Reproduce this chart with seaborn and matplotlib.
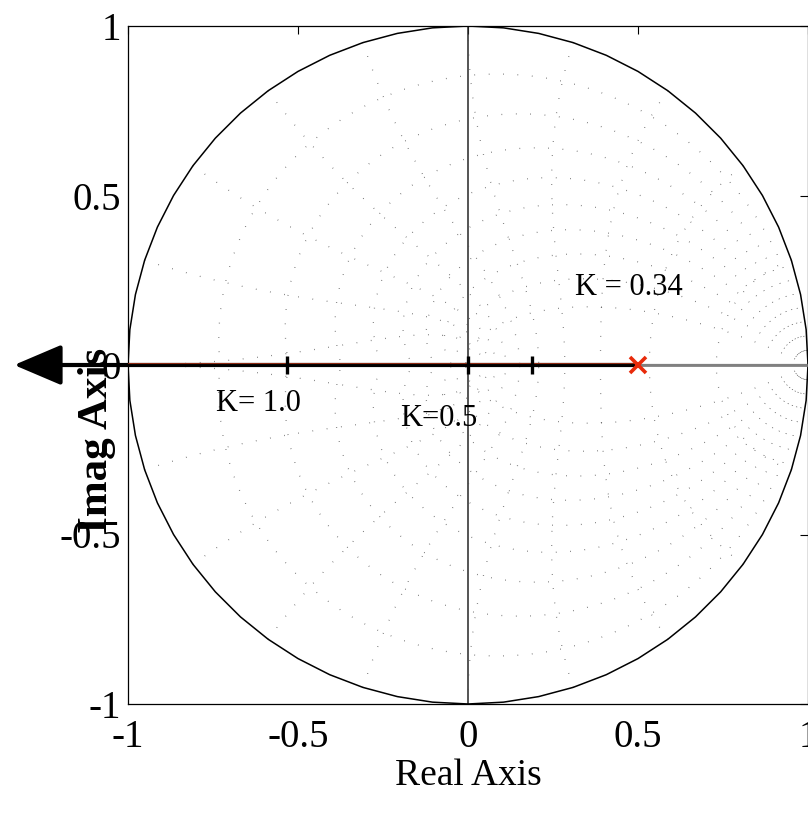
import numpy as np
import matplotlib
matplotlib.use("Agg")
import matplotlib.pyplot as plt
import matplotlib.transforms as mtransforms
import seaborn as sns

# ---- data ----
pole_real = [0.5]
pole_imag = [0.0]
locus_real = [0.5, -1.335]          # root locus branch (pole -> left, arrow tip)
locus_imag = [0.0, 0.0]
right_branch_real = [0.5, 1.0]
right_branch_imag = [0.0, 0.0]
k_marks_real = [-0.532, 0.0, 0.188]
k_marks_imag = [0.0, 0.0, 0.0]
k_labels = ["K= 1.0", "K=0.5", "K = 0.34"]
k_label_x = [-0.741, -0.20, 0.315]
k_label_y = [-0.135, -0.179, 0.206]
zeta_vals = [0.1, 0.2, 0.3, 0.4, 0.5, 0.6, 0.7, 0.8, 0.9]
wn_vals = [0.1, 0.2, 0.3, 0.4, 0.5, 0.6, 0.7, 0.8, 0.9, 1.0]   # multiples of pi
ticks = [-1, -0.5, 0, 0.5, 1]
tick_labels = ["-1", "-0.5", "0", "0.5", "1"]

sns.set_theme(style="white")
plt.rcParams["font.family"] = ["Liberation Serif", "DejaVu Serif"]
plt.rcParams["text.color"] = "black"
plt.rcParams["axes.labelcolor"] = "black"

fig = plt.figure(figsize=(8.08, 8.17), dpi=100)
ax = fig.add_axes([128 / 808, 1 - 704 / 817, 680 / 808, 678 / 817])

# z-plane grid (dotted)
grid_kw = dict(color="0.3", lw=0.9, dashes=(0.5, 11.0), sort=False, estimator=None,
               legend=False, ax=ax)
for z in zeta_vals:
    wmax = np.pi / np.sqrt(1 - z ** 2)
    w = np.linspace(0, wmax, 200)
    s = w * (-z + 1j * np.sqrt(1 - z ** 2))
    zz = np.exp(s)
    sns.lineplot(x=zz.real, y=zz.imag, **grid_kw)
    sns.lineplot(x=zz.real, y=-zz.imag, **grid_kw)
for wn in wn_vals:
    phi = np.linspace(np.pi / 2, np.pi, 120)
    zz = np.exp(wn * np.pi * np.exp(1j * phi))
    sns.lineplot(x=zz.real, y=zz.imag, **grid_kw)
    sns.lineplot(x=zz.real, y=-zz.imag, **grid_kw)

# unit circle (polygonal)
th = np.linspace(0, 2 * np.pi, 61)
sns.lineplot(x=np.cos(th), y=np.sin(th), sort=False, estimator=None, color="black",
             lw=1.1, ax=ax)

# axes lines
ax.axvline(0, color="0.15", lw=1.1, zorder=1)
ax.axhline(0, color="0.5", lw=1.6, zorder=1)
sns.lineplot(x=right_branch_real, y=right_branch_imag, color="0.5", lw=2.0,
             sort=False, estimator=None, ax=ax)

# root locus with arrow
ax.annotate("", xy=(locus_real[1], locus_imag[1]), xytext=(locus_real[0], locus_imag[0]),
            arrowprops=dict(arrowstyle="-|>,head_length=1.48,head_width=0.63",
                            mutation_scale=20, lw=3.0, color="black",
                            shrinkA=0, shrinkB=0),
            annotation_clip=False, zorder=5)
off = mtransforms.offset_copy(ax.transData, fig=fig, x=0, y=1.6, units="dots")
ax.plot([locus_real[0], -1.0], [locus_imag[0], 0.0], color="#8c2a12", lw=0.8,
        transform=off, zorder=6)

# K marks
sns.scatterplot(x=k_marks_real, y=k_marks_imag, marker="|", s=150, linewidth=2.4,
                color="black", ax=ax, zorder=7)
# pole
ax.plot(pole_real, pole_imag, marker="x", ls="none", ms=11, mew=2.6, color="#e82a0a",
        zorder=8)

for t, x, y in zip(k_labels, k_label_x, k_label_y):
    ax.text(x, y, t, fontsize=22, ha="left", va="baseline", color="black", zorder=9)

ax.set_xlim(-1, 1)
ax.set_ylim(-1, 1)
ax.set_xticks(ticks)
ax.set_xticklabels(tick_labels)
ax.set_yticks(ticks)
ax.set_yticklabels(tick_labels)
ax.tick_params(direction="in", length=6, width=0.8, top=True, right=True,
               labelsize=28, colors="black")
ax.tick_params(axis="x", pad=11)
ax.tick_params(axis="y", pad=5)
for sp in ax.spines.values():
    sp.set_color("black")
    sp.set_linewidth(0.9)

ax.set_xlabel("Real Axis", fontsize=27, color="black")
ax.xaxis.set_label_coords(0.5, -0.12)
ax.xaxis.label.set_va("baseline")
ax.set_ylabel("Imag Axis", fontsize=31, fontweight="bold", color="black")
ax.yaxis.set_label_coords(-0.0456, 0.389)
ax.yaxis.label.set_va("center")
ax.set_facecolor("white")
fig.patch.set_facecolor("white")

fig.savefig("out.png", dpi=100)
